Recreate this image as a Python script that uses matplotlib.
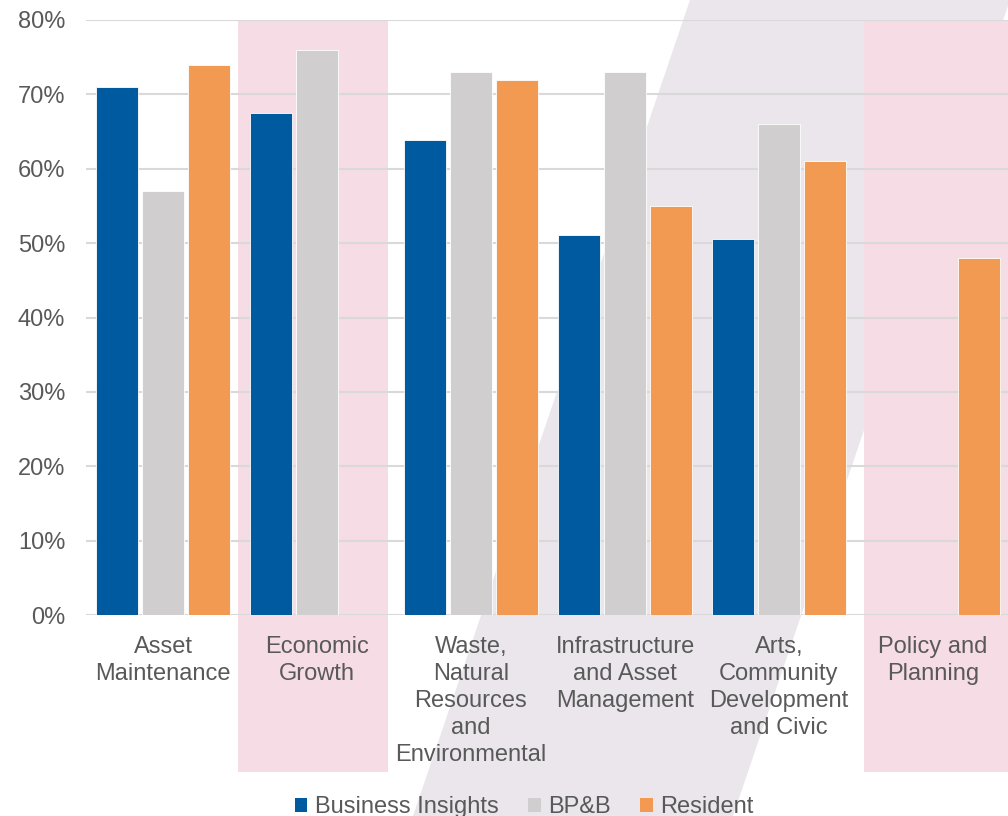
import numpy as np
import matplotlib.pyplot as plt
from matplotlib.patches import Polygon, Patch, Rectangle
import matplotlib.transforms as mtransforms

plt.rcParams['font.family'] = ['Liberation Sans', 'DejaVu Sans']

# Datos
categories = ["Asset\nMaintenance", "Economic\nGrowth",
              "Waste,\nNatural\nResources\nand\nEnvironmental",
              "Infrastructure\nand Asset\nManagement",
              "Arts,\nCommunity\nDevelopment\nand Civic",
              "Policy and\nPlanning"]
series_names = ["Business Insights", "BP&B", "Resident"]
business_insights = [71.0, 67.5, 63.8, 51.1, 50.5, np.nan]
bpb = [57.0, 76.0, 73.0, 73.0, 66.0, np.nan]
resident = [74.0, np.nan, 72.0, 55.0, 61.0, 48.0]
# columnas resaltadas (inicio, fin) en unidades de categoría
highlight_spans = [(0.49, 1.46), (4.55, 5.6)]
y_ticks = [0, 10, 20, 30, 40, 50, 60, 70, 80]

colors = ["#005AA0", "#D0CECF", "#F39A52"]
text_color = "#595959"

fig = plt.figure(figsize=(10.08, 8.16), dpi=100)

# Banda diagonal de fondo
band = Polygon([(690 / 1008, 1.0), (1010 / 1008, 1.0),
                (733 / 1008, 0.0), (413 / 1008, 0.0)],
               closed=True, transform=fig.transFigure,
               facecolor="#EAE6EC", edgecolor="none", zorder=-1)
fig.patches.append(band)

ax = fig.add_axes([86 / 1008, 201 / 816, 924 / 1008, 595 / 816])
ax.patch.set_visible(False)

x = np.arange(len(categories))
offsets = [-0.3, 0.0, 0.3]
width = 0.27
for vals, off, c, name in zip([business_insights, bpb, resident], offsets, colors, series_names):
    ax.bar(x + off, vals, width=width, color=c, edgecolor="white",
           linewidth=0.6, zorder=2, label=name)

# Columnas resaltadas que bajan hasta las etiquetas
trans = mtransforms.blended_transform_factory(ax.transData, ax.transAxes)
for x0, x1 in highlight_spans:
    ax.add_patch(Rectangle((x0, -0.264), x1 - x0, 1.264, transform=trans,
                           facecolor="#F6DCE5", edgecolor="none",
                           clip_on=False, zorder=0.2))

ax.set_xlim(-0.5, 5.5)
ax.set_ylim(0, 80)
ax.set_yticks(y_ticks)
ax.set_yticklabels([f"{t}%" for t in y_ticks])
ax.set_xticks(x)
ax.set_xticklabels(categories, linespacing=1.3)
ax.tick_params(axis="both", length=0, labelsize=17, colors=text_color)
ax.tick_params(axis="y", pad=15)
ax.tick_params(axis="x", pad=15)
ax.yaxis.grid(True, color="#D9D9D9", linewidth=1.5)
ax.set_axisbelow(True)
for s in ax.spines.values():
    s.set_visible(False)

handles = [Patch(facecolor=c, edgecolor="none") for c in colors]
leg = fig.legend(handles, series_names, loc="center", ncol=3,
                 bbox_to_anchor=(524 / 1008, 1 - 807 / 816), frameon=False,
                 fontsize=17, handlelength=0.55, handleheight=0.55,
                 handletextpad=0.3, columnspacing=1.25)
for t in leg.get_texts():
    t.set_color(text_color)

fig.savefig("out.png", dpi=100)
